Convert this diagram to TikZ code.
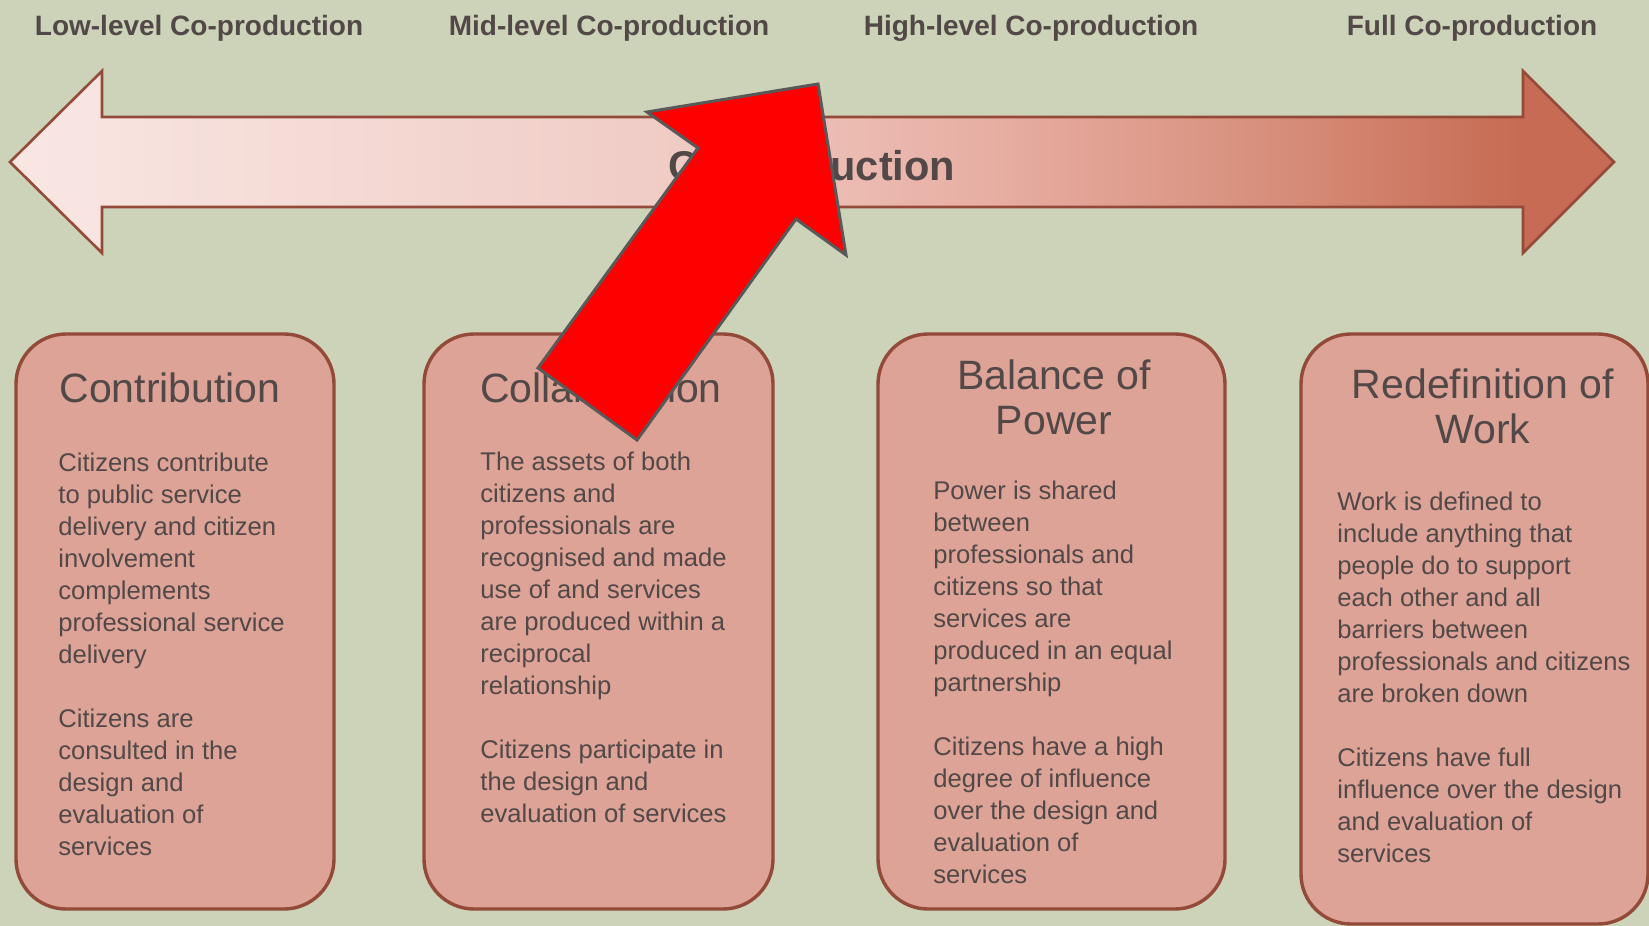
\documentclass[tikz,border=0pt]{standalone}
\usepackage{fontspec}
\setmainfont{Liberation Sans}
\definecolor{backdrop}{RGB}{204,211,185}
\definecolor{rust}{RGB}{148,74,56}
\definecolor{stagefill}{RGB}{220,163,150}
\definecolor{inkgrey}{RGB}{82,72,72}
\definecolor{outlinegrey}{RGB}{89,89,89}
\definecolor{palepink}{RGB}{249,231,228}
\definecolor{lightpink}{RGB}{240,205,198}
\definecolor{rosepink}{RGB}{232,176,165}
\definecolor{salmon}{RGB}{214,140,120}
\definecolor{deepsalmon}{RGB}{199,107,84}
\pgfdeclarehorizontalshading{coprodramp}{100bp}{color(0bp)=(palepink);
 color(25bp)=(palepink); color(45bp)=(lightpink); color(55bp)=(rosepink);
 color(65bp)=(salmon); color(72bp)=(deepsalmon); color(100bp)=(deepsalmon)}
% multi-line nodes sit on the baseline of their last line
\tikzset{every node/.style={text=inkgrey,inner sep=0pt},
 stage/.style={draw=rust,line width=1.7pt,fill=stagefill,rounded corners=25pt},
 stagetitle/.style={anchor=base,align=center,font=\fontsize{20.5}{22.5}\selectfont},
 stagetext/.style={anchor=base west,align=left,font=\fontsize{12.8}{16}\selectfont},
 levellabel/.style={anchor=base,font=\bfseries\fontsize{14}{16}\selectfont},
 scalearrow/.style={draw=rust,line width=1.3pt,shading=coprodramp,line join=miter},
 pointer/.style={draw=outlinegrey,line width=1.5pt,fill=red,line join=miter}}

\begin{document}
\begin{tikzpicture}[x=0.5pt,y=-0.5pt]
\fill[backdrop] (0,0) rectangle (1649,926);
\useasboundingbox (0,0) rectangle (1649,926);
\clip (0,0) rectangle (1649,926);
% levels along the top
\foreach \name/\xpos/\level in {low/199/Low-level,mid/609/Mid-level,
 high/1031/High-level,full/1472/Full}
 \node[levellabel] (\name) at (\xpos,35) {\level{} Co-production};
% the double-headed scale
\path[scalearrow] (10,162)--(102,71)--(102,117)--(1523,117)--(1523,71)
 --(1614,162)--(1523,253)--(1523,207)--(102,207)--(102,253)--cycle;
\node[anchor=base,font=\bfseries\fontsize{20.8}{24}\selectfont] (scalelabel)
 at (812,180) {Co-production};
% one box per stage
\foreach \name/\cx/\cy/\w/\h/\tx/\ty/\title/\bx/\by/\body in {
contrib/175/621.5/159/287.5/170/402/{Contribution}/58/855/{Citizens contribute\\
 to public service\\delivery and citizen\\involvement\\complements\\
 professional service\\delivery\\[16pt]Citizens are\\consulted in the\\
 design and\\evaluation of\\services},
collab/598.5/621.5/174.5/287.5/601/402/{Collaboration}/480/822/{The assets of both\\
 citizens and\\professionals are\\recognised and made\\use of and services\\
 are produced within a\\reciprocal\\relationship\\[16pt]Citizens participate in\\
 the design and\\evaluation of services},
balance/1051.5/621.5/173.5/287.5/1054/434/{Balance of\\Power}/933/883/{Power is shared\\
 between\\professionals and\\citizens so that\\services are\\
 produced in an equal\\partnership\\[16pt]Citizens have a high\\
 degree of influence\\over the design and\\evaluation of\\services},
redef/1474.5/629/173.5/295/1483/443/{Redefinition of\\Work}/1337/862/{Work is defined to\\
 include anything that\\people do to support\\each other and all\\
 barriers between\\professionals and citizens\\are broken down\\[16pt]
 Citizens have full\\influence over the design\\and evaluation of\\services}} {
\node[stage,minimum width=\w pt,minimum height=\h pt] (box\name) at (\cx,\cy) {};
\node[stagetitle] (title\name) at (\tx,\ty) {\title};
\node[stagetext] (text\name) at (\bx,\by) {\body};
}
% red pointer on top
\path[pointer] (647,112)--(818,84)--(846,255)--(796,219)--(637,440)
 --(538,368)--(698,148)--cycle;
\end{tikzpicture}
\end{document}
